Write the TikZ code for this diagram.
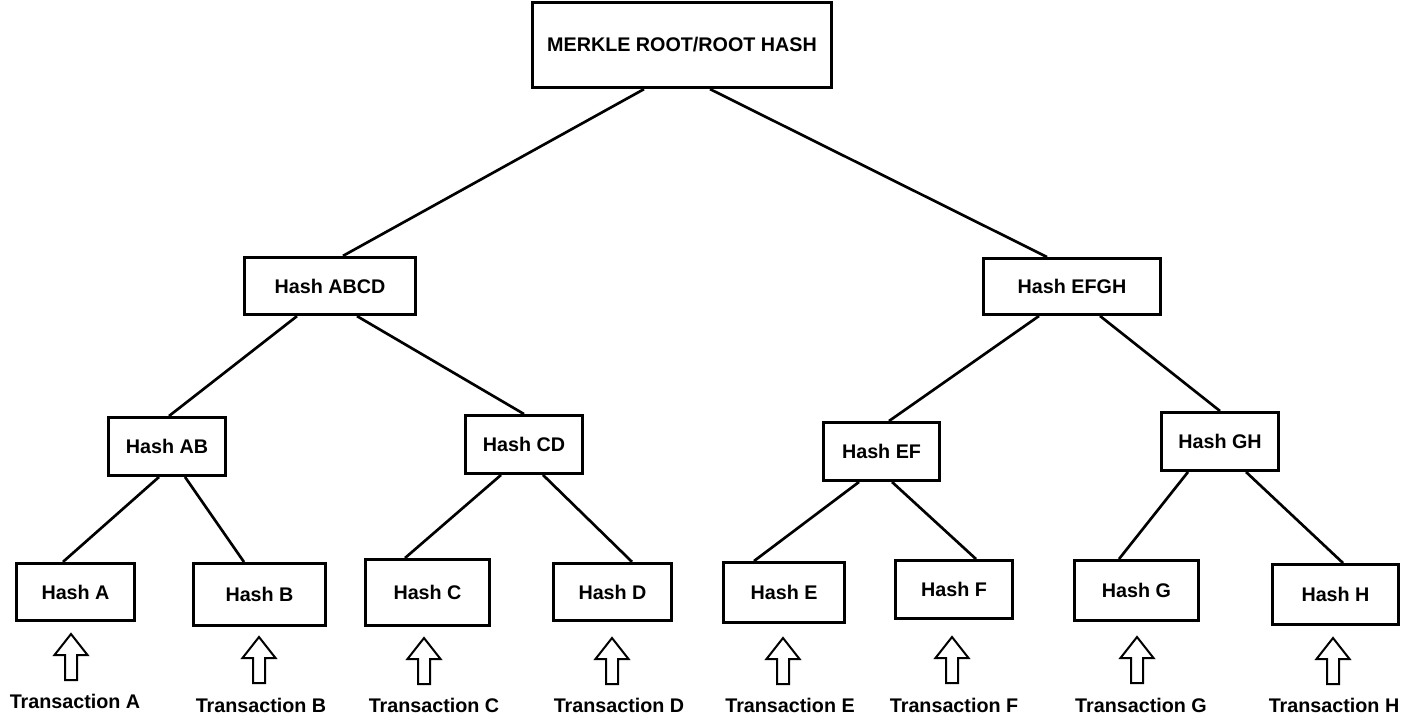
\documentclass[tikz,border=0pt]{standalone}
\usepackage{fontspec}
\setmainfont{Liberation Sans}
\usetikzlibrary{calc}
\begin{document}
\begin{tikzpicture}[x=0.75pt,y=-0.75pt,
  hbox/.style={draw, line width=2.2pt, inner sep=0pt, font=\fontsize{14.8}{16}\selectfont\bfseries},
  link/.style={line width=2pt},
  txlabel/.style={inner sep=0pt, font=\fontsize{14.8}{16}\selectfont\bfseries},
  arrowline/.style={draw, line width=1.5pt, fill=white},
  uparrow/.pic={\path[arrowline] (-6,0) -- (-6,-25) -- (-16.5,-25) -- (0,-46) -- (16.5,-25) -- (6,-25) -- (6,0) -- cycle;}
]
\useasboundingbox (0,0) rectangle (1409,723);
% boxes
\node[hbox, minimum width=224pt, minimum height=64pt] (root) at (682,45) {MERKLE ROOT/ROOT HASH};
\node[hbox, minimum width=128pt, minimum height=43pt] (abcd) at (330,286) {Hash ABCD};
\node[hbox, minimum width=133pt, minimum height=42pt] (efgh) at (1072,286.5) {Hash EFGH};
\node[hbox, minimum width=88pt, minimum height=43.5pt] (ab) at (167,446.5) {Hash AB};
\node[hbox, minimum width=88pt, minimum height=43.5pt] (cd) at (524,444.5) {Hash CD};
\node[hbox, minimum width=87pt, minimum height=43.5pt] (ef) at (881.5,451.5) {Hash EF};
\node[hbox, minimum width=88pt, minimum height=43.5pt] (gh) at (1220,441.5) {Hash GH};
\node[hbox, minimum width=88.5pt, minimum height=43pt] (ha) at (75.5,592) {Hash A};
\node[hbox, minimum width=99pt, minimum height=46.5pt] (hb) at (259.5,594.5) {Hash B};
\node[hbox, minimum width=93pt, minimum height=49.5pt] (hc) at (427.5,592.5) {Hash C};
\node[hbox, minimum width=88.5pt, minimum height=43pt] (hd) at (612.5,592) {Hash D};
\node[hbox, minimum width=91pt, minimum height=45pt] (he) at (784,592.5) {Hash E};
\node[hbox, minimum width=88pt, minimum height=43.5pt] (hf) at (954,589.5) {Hash F};
\node[hbox, minimum width=93pt, minimum height=45pt] (hg) at (1136.5,590.5) {Hash G};
\node[hbox, minimum width=94.5pt, minimum height=45pt] (hh) at (1335.5,594.5) {Hash H};
% connectors
\draw[link] ([shift={(-38,0)}]root.south) -- ([shift={(13,0)}]abcd.north);
\draw[link] ([shift={(28,0)}]root.south) -- ([shift={(-25,0)}]efgh.north);
\draw[link] ([shift={(-33,0)}]abcd.south) -- ([shift={(2,0)}]ab.north);
\draw[link] ([shift={(27,0)}]abcd.south) -- ([shift={(0,0)}]cd.north);
\draw[link] ([shift={(-33,0)}]efgh.south) -- ([shift={(7.5,0)}]ef.north);
\draw[link] ([shift={(28,0)}]efgh.south) -- ([shift={(0,0)}]gh.north);
\draw[link] ([shift={(-8,0)}]ab.south) -- ([shift={(-12.5,0)}]ha.north);
\draw[link] ([shift={(18,0)}]ab.south) -- ([shift={(-15.5,0)}]hb.north);
\draw[link] ([shift={(-23,0)}]cd.south) -- ([shift={(-22.5,0)}]hc.north);
\draw[link] ([shift={(19,0)}]cd.south) -- ([shift={(19.5,0)}]hd.north);
\draw[link] ([shift={(-22.5,0)}]ef.south) -- ([shift={(-30,0)}]he.north);
\draw[link] ([shift={(10.5,0)}]ef.south) -- ([shift={(22,0)}]hf.north);
\draw[link] ([shift={(-32,0)}]gh.south) -- ([shift={(-17.5,0)}]hg.north);
\draw[link] ([shift={(26,0)}]gh.south) -- ([shift={(7.5,0)}]hh.north);
% arrows
\pic at (71,680) {uparrow};
\pic at (259,683) {uparrow};
\pic at (424,684) {uparrow};
\pic at (612,684) {uparrow};
\pic at (783,684) {uparrow};
\pic at (952,683) {uparrow};
\pic at (1137,683) {uparrow};
\pic at (1333,684) {uparrow};
% transaction labels
\node[txlabel] (ta) at (75,701) {Transaction A};
\node[txlabel] (tb) at (261,705) {Transaction B};
\node[txlabel] (tc) at (434,705) {Transaction C};
\node[txlabel] (td) at (619,705) {Transaction D};
\node[txlabel] (te) at (790,705) {Transaction E};
\node[txlabel] (tf) at (954,705) {Transaction F};
\node[txlabel] (tg) at (1141,705) {Transaction G};
\node[txlabel] (th) at (1334,705) {Transaction H};
\end{tikzpicture}
\end{document}
